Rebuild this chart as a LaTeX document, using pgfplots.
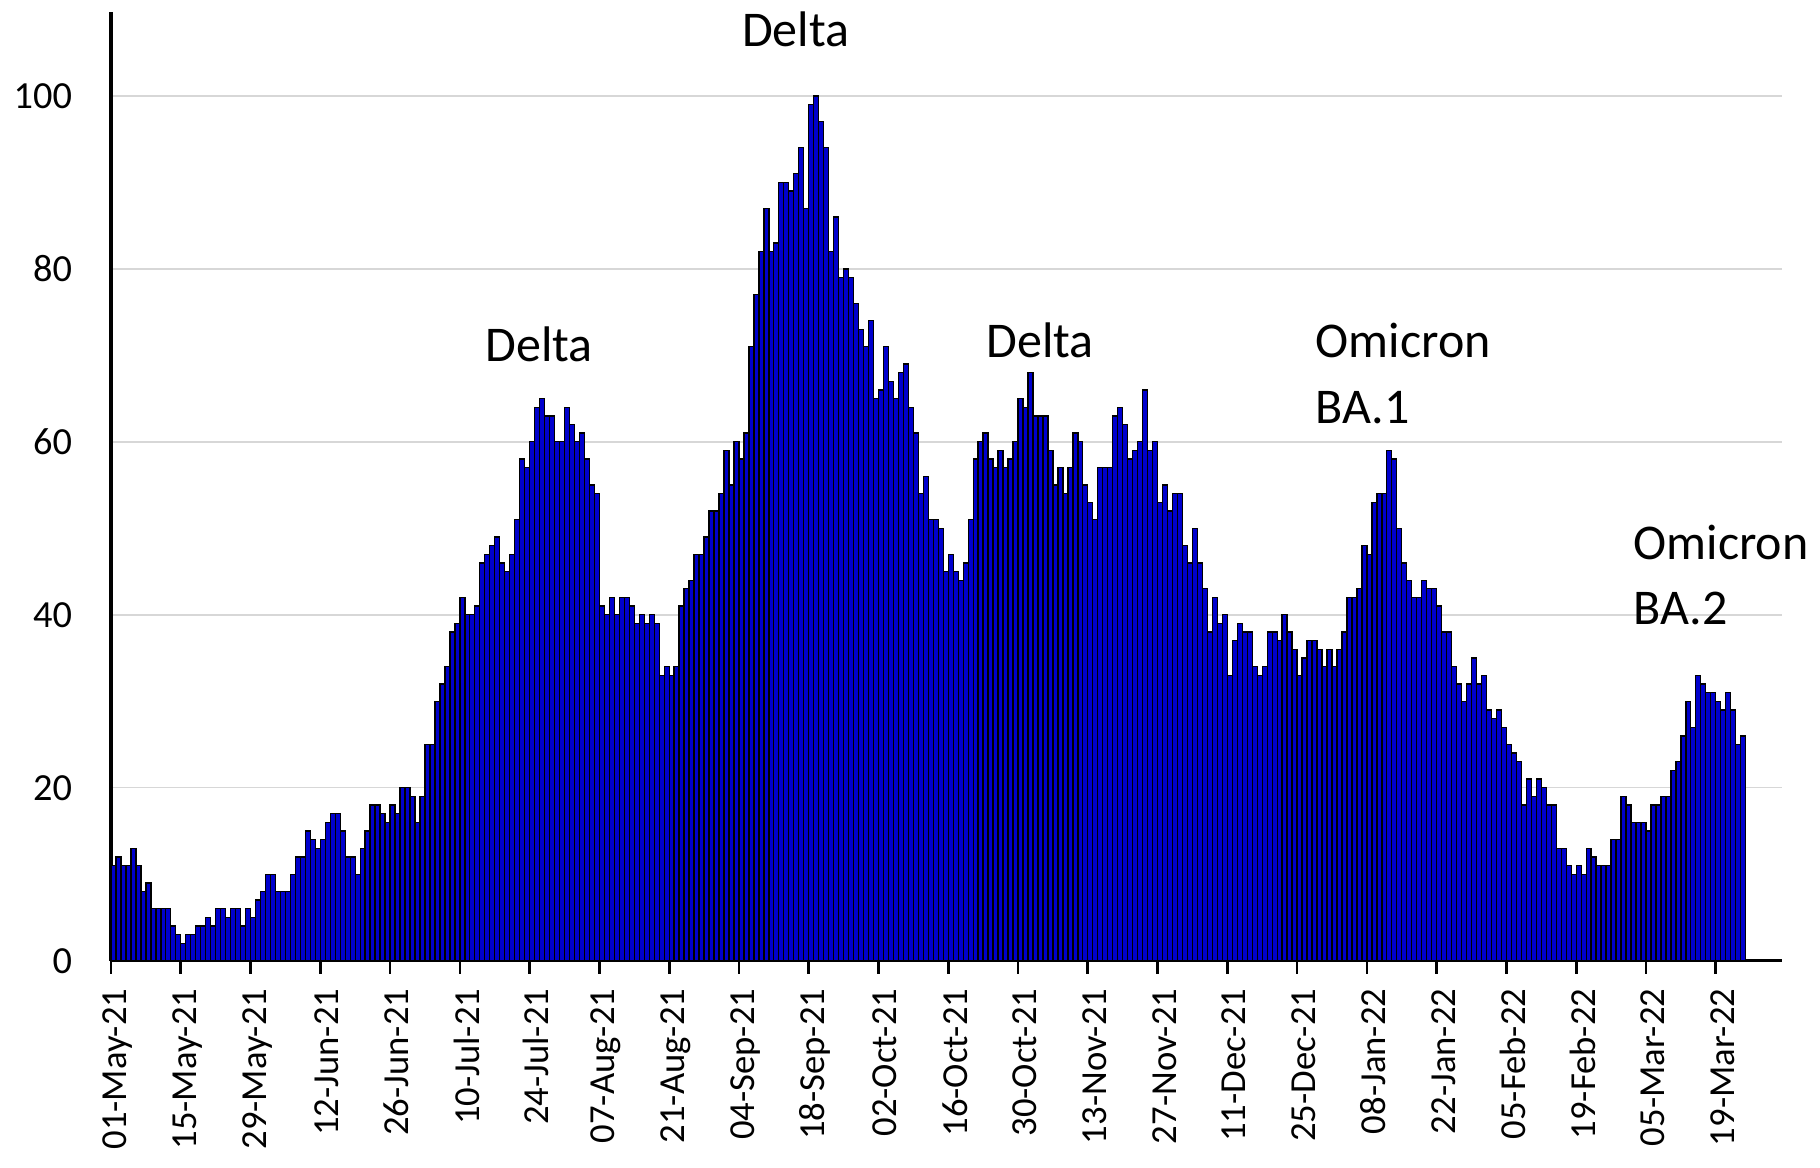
\documentclass[border=0pt]{standalone}
\usepackage{fontspec}
\setmainfont{Carlito}
\usepackage{pgfplots}
\usepackage{pgfplotstable}
\pgfplotsset{compat=1.18}

% daily counts, day 0 = 01-May-21
\pgfplotstableread[row sep=\\]{
day cases\\
0 11\\ 1 12\\ 2 11\\ 3 11\\ 4 13\\ 5 11\\ 6 8\\ 7 9\\ 8 6\\ 9 6\\
10 6\\ 11 6\\ 12 4\\ 13 3\\ 14 2\\ 15 3\\ 16 3\\ 17 4\\ 18 4\\ 19 5\\
20 4\\ 21 6\\ 22 6\\ 23 5\\ 24 6\\ 25 6\\ 26 4\\ 27 6\\ 28 5\\ 29 7\\
30 8\\ 31 10\\ 32 10\\ 33 8\\ 34 8\\ 35 8\\ 36 10\\ 37 12\\ 38 12\\ 39 15\\
40 14\\ 41 13\\ 42 14\\ 43 16\\ 44 17\\ 45 17\\ 46 15\\ 47 12\\ 48 12\\ 49 10\\
50 13\\ 51 15\\ 52 18\\ 53 18\\ 54 17\\ 55 16\\ 56 18\\ 57 17\\ 58 20\\ 59 20\\
60 19\\ 61 16\\ 62 19\\ 63 25\\ 64 25\\ 65 30\\ 66 32\\ 67 34\\ 68 38\\ 69 39\\
70 42\\ 71 40\\ 72 40\\ 73 41\\ 74 46\\ 75 47\\ 76 48\\ 77 49\\ 78 46\\ 79 45\\
80 47\\ 81 51\\ 82 58\\ 83 57\\ 84 60\\ 85 64\\ 86 65\\ 87 63\\ 88 63\\ 89 60\\
90 60\\ 91 64\\ 92 62\\ 93 60\\ 94 61\\ 95 58\\ 96 55\\ 97 54\\ 98 41\\ 99 40\\
100 42\\ 101 40\\ 102 42\\ 103 42\\ 104 41\\ 105 39\\ 106 40\\ 107 39\\ 108 40\\ 109 39\\
110 33\\ 111 34\\ 112 33\\ 113 34\\ 114 41\\ 115 43\\ 116 44\\ 117 47\\ 118 47\\ 119 49\\
120 52\\ 121 52\\ 122 54\\ 123 59\\ 124 55\\ 125 60\\ 126 58\\ 127 61\\ 128 71\\ 129 77\\
130 82\\ 131 87\\ 132 82\\ 133 83\\ 134 90\\ 135 90\\ 136 89\\ 137 91\\ 138 94\\ 139 87\\
140 99\\ 141 100\\ 142 97\\ 143 94\\ 144 82\\ 145 86\\ 146 79\\ 147 80\\ 148 79\\ 149 76\\
150 73\\ 151 71\\ 152 74\\ 153 65\\ 154 66\\ 155 71\\ 156 67\\ 157 65\\ 158 68\\ 159 69\\
160 64\\ 161 61\\ 162 54\\ 163 56\\ 164 51\\ 165 51\\ 166 50\\ 167 45\\ 168 47\\ 169 45\\
170 44\\ 171 46\\ 172 51\\ 173 58\\ 174 60\\ 175 61\\ 176 58\\ 177 57\\ 178 59\\ 179 57\\
180 58\\ 181 60\\ 182 65\\ 183 64\\ 184 68\\ 185 63\\ 186 63\\ 187 63\\ 188 59\\ 189 55\\
190 57\\ 191 54\\ 192 57\\ 193 61\\ 194 60\\ 195 55\\ 196 53\\ 197 51\\ 198 57\\ 199 57\\
200 57\\ 201 63\\ 202 64\\ 203 62\\ 204 58\\ 205 59\\ 206 60\\ 207 66\\ 208 59\\ 209 60\\
210 53\\ 211 55\\ 212 52\\ 213 54\\ 214 54\\ 215 48\\ 216 46\\ 217 50\\ 218 46\\ 219 43\\
220 38\\ 221 42\\ 222 39\\ 223 40\\ 224 33\\ 225 37\\ 226 39\\ 227 38\\ 228 38\\ 229 34\\
230 33\\ 231 34\\ 232 38\\ 233 38\\ 234 37\\ 235 40\\ 236 38\\ 237 36\\ 238 33\\ 239 35\\
240 37\\ 241 37\\ 242 36\\ 243 34\\ 244 36\\ 245 34\\ 246 36\\ 247 38\\ 248 42\\ 249 42\\
250 43\\ 251 48\\ 252 47\\ 253 53\\ 254 54\\ 255 54\\ 256 59\\ 257 58\\ 258 50\\ 259 46\\
260 44\\ 261 42\\ 262 42\\ 263 44\\ 264 43\\ 265 43\\ 266 41\\ 267 38\\ 268 38\\ 269 34\\
270 32\\ 271 30\\ 272 32\\ 273 35\\ 274 32\\ 275 33\\ 276 29\\ 277 28\\ 278 29\\ 279 27\\
280 25\\ 281 24\\ 282 23\\ 283 18\\ 284 21\\ 285 19\\ 286 21\\ 287 20\\ 288 18\\ 289 18\\
290 13\\ 291 13\\ 292 11\\ 293 10\\ 294 11\\ 295 10\\ 296 13\\ 297 12\\ 298 11\\ 299 11\\
300 11\\ 301 14\\ 302 14\\ 303 19\\ 304 18\\ 305 16\\ 306 16\\ 307 16\\ 308 15\\ 309 18\\
310 18\\ 311 19\\ 312 19\\ 313 22\\ 314 23\\ 315 26\\ 316 30\\ 317 27\\ 318 33\\ 319 32\\
320 31\\ 321 31\\ 322 30\\ 323 29\\ 324 31\\ 325 29\\ 326 25\\ 327 26\\
}\cases

\definecolor{barblue}{RGB}{0,0,205}
\definecolor{gridgray}{RGB}{215,215,215}

\begin{document}
\begin{tikzpicture}
\begin{axis}[
    at={(0,0)}, anchor=south west,
    scale only axis,
    width=501.3pt, height=284.61pt,
    xmin=0, xmax=335.3,
    ymin=0, ymax=109.7,
    axis lines=left,
    axis line style={-, line width=1pt, black},
    ybar, bar width=1,
    xtick={0,14,...,322},
    xticklabels={01-May-21,15-May-21,29-May-21,12-Jun-21,26-Jun-21,10-Jul-21,
        24-Jul-21,07-Aug-21,21-Aug-21,04-Sep-21,18-Sep-21,02-Oct-21,16-Oct-21,
        30-Oct-21,13-Nov-21,27-Nov-21,11-Dec-21,25-Dec-21,08-Jan-22,22-Jan-22,
        05-Feb-22,19-Feb-22,05-Mar-22,19-Mar-22},
    xtick align=outside,
    major tick length=3.9pt,
    xtick style={black, line width=0.8pt},
    ytick={0,20,...,100},
    ytick align=inside,
    ytick style={draw=none},
    ymajorgrids,
    grid style={gridgray, line width=0.45pt},
    xticklabel shift=4.3pt,
    xticklabel style={rotate=90, anchor=east, inner sep=0pt, yshift=-2pt,
        font=\fontsize{11}{13}\selectfont},
    yticklabel style={anchor=east, inner sep=0pt, xshift=-11.5pt,
        font=\fontsize{11.5}{13}\selectfont},
    /pgf/number format/assume math mode=true,
    clip=false,
]
\addplot[fill=barblue, draw=black, line width=0.4pt]
    table[x expr=\thisrow{day}+0.5, y=cases] {\cases};

\begin{scope}[every node/.style={inner sep=0pt, font=\fontsize{15}{18}\selectfont}]
\node[anchor=base] at (axis cs:137.4,105.7) {Delta};
\node[anchor=base] at (axis cs:85.9,69.3) {Delta};
\node[anchor=base] at (axis cs:186.4,69.7) {Delta};
\node[anchor=base west] at (axis cs:241.6,69.7) {Omicron};
\node[anchor=base west] at (axis cs:241.6,62.1) {BA.1};
\node[anchor=base west] at (axis cs:305.4,46.4) {Omicron};
\node[anchor=base west] at (axis cs:305.4,38.9) {BA.2};
\end{scope}
\end{axis}
\pgfresetboundingbox
\path[use as bounding box] (-33.3pt,-62.19pt) rectangle (512.7pt,288.21pt);
\end{tikzpicture}
\end{document}
